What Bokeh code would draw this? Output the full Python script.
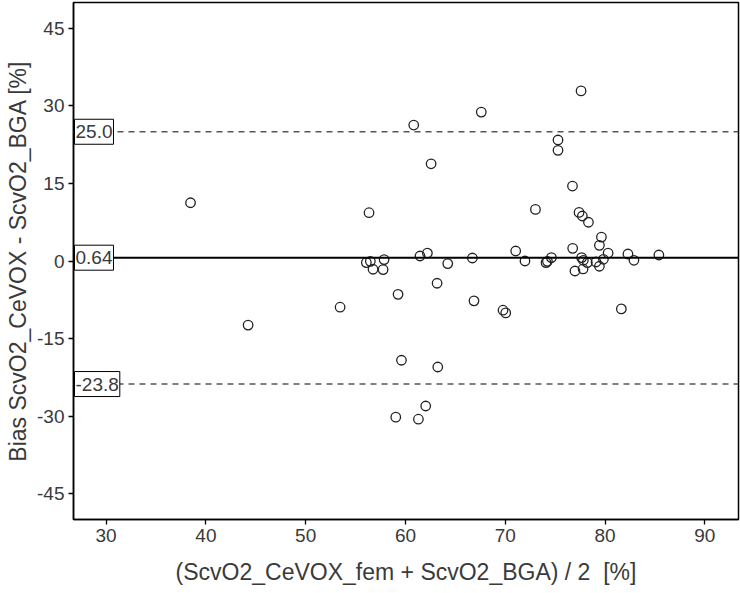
from bokeh.plotting import figure
from bokeh.models import Range1d, Label, Span, FixedTicker
from bokeh.embed import file_html
from bokeh.resources import INLINE

# Data
mean_x = [38.46, 44.23, 53.45, 56.08, 56.48, 56.75, 57.86, 57.76, 56.35, 59.26,
          59.60, 59.03, 61.30, 62.03, 63.24, 60.83, 62.57, 61.46, 62.20, 64.24,
          63.17, 66.71, 66.87, 67.60, 69.78, 70.05, 71.05, 71.98, 73.03, 74.09,
          74.23, 74.63, 75.29, 75.29, 76.74, 76.76, 76.99, 77.40, 77.73, 78.34,
          77.60, 77.66, 77.83, 78.23, 77.80, 79.10, 79.44, 79.84, 80.31, 79.44,
          79.64, 82.30, 82.90, 85.40, 81.64]
diff_y = [11.27, -12.40, -8.94, -0.31, -0.06, -1.60, 0.27, -1.66, 9.34, -6.45,
          -19.20, -30.20, -30.60, -28.05, -20.50, 26.30, 18.80, 0.97, 1.54, -0.50,
          -4.30, 0.58, -7.70, 28.80, -9.52, -10.04, 1.93, 0.00, 9.98, -0.31,
          -0.06, 0.66, 23.40, 21.40, 14.50, 2.45, -1.93, 9.40, 8.70, 7.50,
          32.90, 0.66, 0.14, -0.31, -1.54, -0.19, -1.02, 0.33, 1.54, 3.03,
          4.63, 1.35, 0.14, 1.16, -9.27]
bias = 0.64
upper_loa = 25.0
lower_loa = -23.8
x_ticks = [30, 40, 50, 60, 70, 80, 90]
y_ticks = [-45, -30, -15, 0, 15, 30, 45]
x_label = "(ScvO2_CeVOX_fem + ScvO2_BGA) / 2\u00a0 [%]"
y_label = "Bias ScvO2_CeVOX - ScvO2_BGA [%]"

FONT = "Liberation Sans"
TXT = "#3a3a3a"

x0, x1 = 26.73, 93.38
y0, y1 = -50, 50

p = figure(width=740, height=593, output_backend="svg", toolbar_location=None,
           x_range=Range1d(x0, x1), y_range=Range1d(y0, y1),
           min_border_left=73, min_border_right=2, min_border_top=2, min_border_bottom=74)
p.background_fill_color = "white"
p.border_fill_color = "white"
p.outline_line_color = "black"
p.outline_line_width = 1.5
p.xgrid.visible = False
p.ygrid.visible = False

for ax, ticks in ((p.xaxis[0], x_ticks), (p.yaxis[0], y_ticks)):
    ax.ticker = FixedTicker(ticks=ticks)
    ax.major_label_overrides = {t: str(t) for t in ticks}
    ax.minor_tick_line_color = None
    ax.major_tick_out = 5
    ax.major_tick_in = 0
    ax.major_tick_line_color = "black"
    ax.major_tick_line_width = 1.3
    ax.axis_line_color = "black"
    ax.axis_line_width = 1.5
    ax.major_label_text_font = FONT
    ax.major_label_text_font_size = "19px"
    ax.major_label_text_color = TXT
    ax.axis_label_text_font = FONT
    ax.axis_label_text_font_size = "23px"
    ax.axis_label_text_font_style = "normal"
    ax.axis_label_text_color = TXT

p.xaxis.axis_label = x_label
p.yaxis.axis_label = y_label
p.xaxis.major_label_standoff = 4
p.yaxis.major_label_standoff = 4
p.xaxis.axis_label_standoff = 14
p.yaxis.axis_label_standoff = 3

p.add_layout(Span(location=bias, dimension="width", line_color="black", line_width=2))
for loc in (upper_loa, lower_loa):
    p.add_layout(Span(location=loc, dimension="width", line_color="#555555",
                      line_width=1.5, line_dash="6 5"))

p.scatter(mean_x, diff_y, marker="circle", size=9.5, fill_color=None,
          line_color="#222222", line_width=1.3)

for val, txt in ((upper_loa, f"{upper_loa:.1f}"), (bias, f"{bias:.2f}"), (lower_loa, f"{lower_loa:.1f}")):
    p.add_layout(Label(x=x0, y=val, text=txt, x_offset=1,
                       text_align="left", text_baseline="middle",
                       text_font=FONT, text_font_size="19px", text_color=TXT,
                       background_fill_color="white", border_line_color="black",
                       border_line_width=1, padding=(1, 6)))

open("out.html", "w").write(file_html(p, INLINE))
